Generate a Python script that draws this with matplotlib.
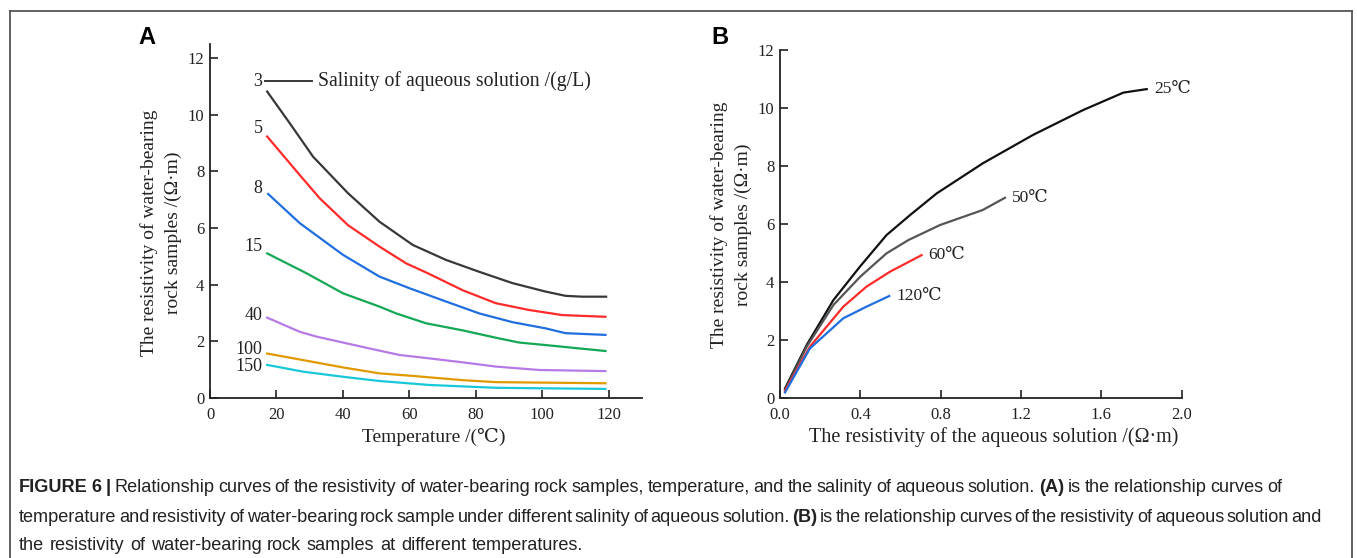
import matplotlib
matplotlib.use("Agg")
import matplotlib.pyplot as plt
from matplotlib.lines import Line2D

# ---------------- data: panel A ----------------
salinity_labels = ["3", "5", "8", "15", "40", "100", "150"]
t3 = [17.2, 24, 31, 41.5, 51, 61, 71, 81, 91, 101, 107, 112, 119.2]
r3 = [10.82, 9.7, 8.52, 7.23, 6.22, 5.4, 4.87, 4.45, 4.05, 3.75, 3.6, 3.57, 3.57]
t5 = [17.2, 27, 33, 41.5, 51, 59, 65.5, 76, 86, 96, 106, 119]
r5 = [9.23, 7.87, 7.05, 6.1, 5.34, 4.75, 4.4, 3.8, 3.34, 3.1, 2.92, 2.86]
t8 = [17.5, 27, 40, 51, 60, 71, 81, 91, 101, 107, 119]
r8 = [7.2, 6.17, 5.05, 4.28, 3.87, 3.4, 2.98, 2.67, 2.45, 2.28, 2.22]
t15 = [17.2, 29, 40, 51, 56, 65, 76, 86, 93, 101, 119]
r15 = [5.1, 4.4, 3.69, 3.22, 2.98, 2.63, 2.38, 2.12, 1.95, 1.86, 1.65]
t40 = [17.2, 27, 32, 40, 48, 57, 66, 76, 86, 99, 119]
r40 = [2.83, 2.33, 2.16, 1.95, 1.74, 1.51, 1.39, 1.25, 1.1, 0.98, 0.94]
t100 = [17.2, 28, 40, 51, 61, 76, 86, 119]
r100 = [1.56, 1.33, 1.07, 0.86, 0.77, 0.62, 0.55, 0.51]
t150 = [17.2, 28, 40, 51, 66, 86, 119]
r150 = [1.16, 0.92, 0.74, 0.59, 0.45, 0.35, 0.31]
label_y_A = [11.17, 9.52, 7.4, 5.34, 2.92, 1.69, 1.12]
colors_A = ["#383838", "#ff2a2a", "#1f6fe0", "#14a855", "#b67ae6", "#e09a00", "#18c8d8"]

# ---------------- data: panel B ----------------
temp_labels = ["25℃", "50℃", "60℃", "120℃"]
x25 = [0.025, 0.133, 0.266, 0.40, 0.53, 0.647, 0.78, 1.01, 1.26, 1.51, 1.71, 1.826]
y25 = [0.32, 1.82, 3.37, 4.54, 5.61, 6.3, 7.05, 8.09, 9.07, 9.93, 10.53, 10.65]
x50 = [0.025, 0.133, 0.266, 0.40, 0.53, 0.639, 0.797, 1.01, 1.12]
y50 = [0.26, 1.76, 3.2, 4.18, 4.98, 5.44, 5.96, 6.48, 6.9]
x60 = [0.025, 0.149, 0.315, 0.43, 0.548, 0.705]
y60 = [0.24, 1.76, 3.14, 3.83, 4.35, 4.92]
x120 = [0.025, 0.149, 0.315, 0.43, 0.544]
y120 = [0.18, 1.70, 2.74, 3.14, 3.51]
colors_B = ["#111111", "#555555", "#ff2a2a", "#1f6fe0"]

serif = ["Liberation Serif", "DejaVu Serif"]
sans = ["Liberation Sans", "DejaVu Sans"]
ink = "#222222"

W, H = 1357, 558
fig = plt.figure(figsize=(W / 100, H / 100), dpi=100)


def ax_rect(l, r, b, t):
    return [l / W, 1 - b / H, (r - l) / W, (b - t) / H]


def fx(px):
    return px / W


def fy(py):
    return 1 - py / H


def style(ax):
    ax.spines["top"].set_visible(False)
    ax.spines["right"].set_visible(False)
    for s in ["left", "bottom"]:
        ax.spines[s].set_linewidth(1.3)
        ax.spines[s].set_color(ink)
    ax.tick_params(direction="in", length=6, width=1.2, labelsize=12, colors=ink)
    ax.tick_params(axis="x", pad=7)
    ax.tick_params(axis="y", pad=4)
    for lab in ax.get_xticklabels() + ax.get_yticklabels():
        lab.set_fontfamily(serif)


ylab = "The resistivity of water-bearing\nrock samples /(Ω·m)"

# ---------------- panel A ----------------
axA = fig.add_axes(ax_rect(210, 642, 397.7, 44))
seriesA = [(t3, r3), (t5, r5), (t8, r8), (t15, r15), (t40, r40), (t100, r100), (t150, r150)]
for (xs, ys), c, lab, ly in zip(seriesA, colors_A, salinity_labels, label_y_A):
    axA.plot(xs, ys, color=c, lw=1.6)
    axA.text(15.8, ly, lab, ha="right", va="center", fontsize=13, family=serif, color=ink)
axA.plot([16.5, 30.8], [11.2, 11.2], color=colors_A[0], lw=1.4)
axA.text(32.5, 11.2, "Salinity of aqueous solution /(g/L)", ha="left", va="center",
         fontsize=14.2, family=serif, color=ink)
axA.set_xlim(0, 130)
axA.set_ylim(0, 12.5)
axA.set_xticks([0, 20, 40, 60, 80, 100, 120])
axA.set_yticks([0, 2, 4, 6, 8, 10, 12])
style(axA)
fig.text(fx(434), fy(437), "Temperature /(℃)", fontsize=14, family=serif, color=ink,
         ha="center", va="center")
fig.text(fx(161), fy(233), ylab, fontsize=14, family=serif, color=ink, rotation=90,
         ha="center", va="center", linespacing=1.45, multialignment="center")

# ---------------- panel B ----------------
axB = fig.add_axes(ax_rect(780, 1181.7, 397.7, 50))
seriesB = [(x25, y25), (x50, y50), (x60, y60), (x120, y120)]
for (xs, ys), c in zip(seriesB, colors_B):
    axB.plot(xs, ys, color=c, lw=1.6)
for (xs, ys), lab in zip(seriesB, temp_labels):
    axB.text(xs[-1] + 0.035, ys[-1], lab, ha="left", va="center", fontsize=12.5,
             family=serif, color=ink)
axB.set_xlim(0, 2.0)
axB.set_ylim(0, 12)
axB.set_xticks([0.0, 0.4, 0.8, 1.2, 1.6, 2.0])
axB.set_xticklabels(["0.0", "0.4", "0.8", "1.2", "1.6", "2.0"])
axB.set_yticks([0, 2, 4, 6, 8, 10, 12])
style(axB)
fig.text(fx(994), fy(437), "The resistivity of the aqueous solution /(Ω·m)", fontsize=14.5,
         family=serif, color=ink, ha="center", va="center")
fig.text(fx(731), fy(225), ylab, fontsize=14, family=serif, color=ink, rotation=90,
         ha="center", va="center", linespacing=1.45, multialignment="center")

# panel letters
fig.text(fx(138), fy(37), "A", fontsize=17, fontweight="bold", family=sans, va="center", ha="left")
fig.text(fx(711), fy(37), "B", fontsize=17, fontweight="bold", family=sans, va="center", ha="left")

# frame
fc = "#555555"
fig.add_artist(Line2D([fx(9.5), fx(9.5)], [0, fy(10.5)], transform=fig.transFigure, color=fc, lw=1.3))
fig.add_artist(Line2D([fx(9.5), fx(1352)], [fy(10.5), fy(10.5)], transform=fig.transFigure, color=fc, lw=1.3))
fig.add_artist(Line2D([fx(1352), fx(1352)], [0, fy(10.5)], transform=fig.transFigure, color=fc, lw=1.3))

# caption (with bold segments)
caption_lines = [
    [("FIGURE 6 |", True), ("Relationship curves of the resistivity of water-bearing rock samples, temperature, and the salinity of aqueous solution.", False),
     ("(A)", True), ("is the relationship curves of", False)],
    [("temperature and resistivity of water-bearing rock sample under different salinity of aqueous solution.", False), ("(B)", True),
     ("is the relationship curves of the resistivity of aqueous solution and", False)],
    [("the resistivity of water-bearing rock samples at different temperatures.", False)],
]
caption_y = [488, 518, 546]
line_end = [1282, 1322, 583]
x0 = 19
renderer = fig.canvas.get_renderer()


def words_of(segs):
    out = []
    for txt, bold in segs:
        for w in txt.split(" "):
            out.append((w, bold))
    return out


def measure(word, bold, fs):
    t = fig.text(0, 0, word, fontsize=fs, family=sans, fontweight="bold" if bold else "normal")
    w = t.get_window_extent(renderer=renderer).width
    t.remove()
    return w


cap_fs = 13.1
for segs, yy, end in zip(caption_lines, caption_y, line_end):
    words = words_of(segs)
    widths = [measure(w, b, cap_fs) for w, b in words]
    gap = (end - x0 - sum(widths)) / (len(words) - 1)
    x = x0
    for (w, b), ww in zip(words, widths):
        fig.text(fx(x), fy(yy), w, fontsize=cap_fs, family=sans,
                 fontweight="bold" if b else "normal", va="center", ha="left", color=ink)
        x += ww + gap

fig.savefig("out.png", dpi=100)
